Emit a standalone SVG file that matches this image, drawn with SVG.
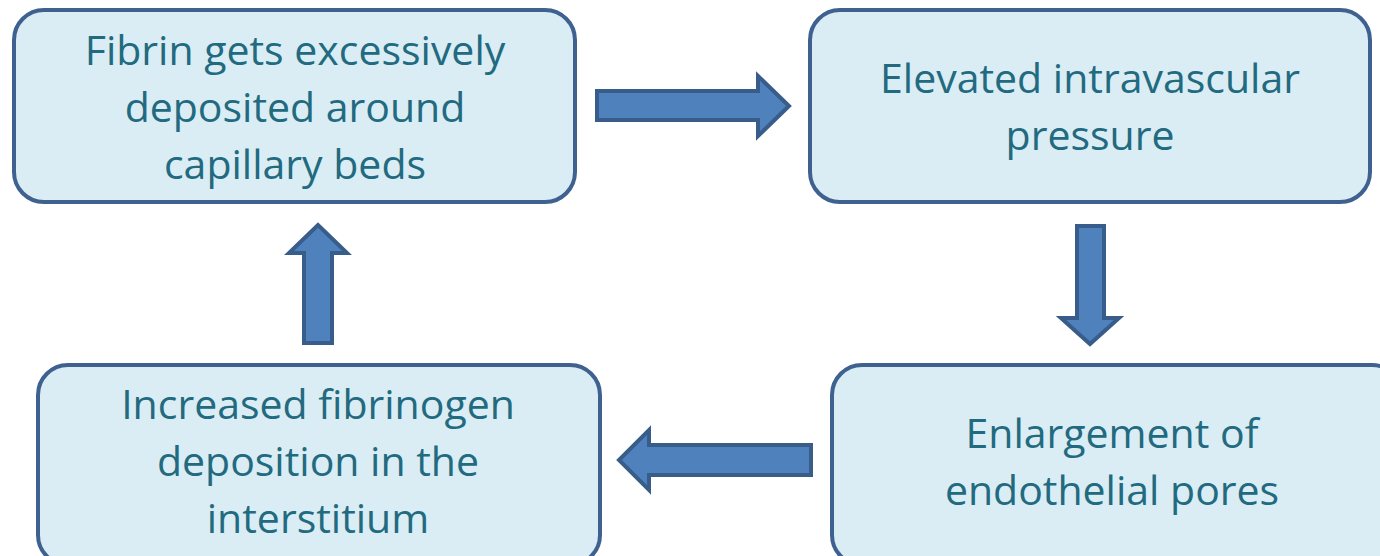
<svg xmlns="http://www.w3.org/2000/svg" width="1380" height="556" viewBox="0 0 1380 556">
<style>
.box{fill:#daedf4;stroke:#3f6190;stroke-width:4}
.arr{fill:#4f81bd;stroke:#385d8a;stroke-width:4;stroke-linejoin:miter}
.t{font-family:"Open Sans","Noto Sans",sans-serif;font-size:41px;fill:#226a80;text-anchor:middle}
</style>
<rect width="1380" height="556" fill="#ffffff"/>
<g id="node-fibrin">
<rect class="box" x="14" y="10" width="561" height="192" rx="30"/>
<text class="t" x="295"><tspan x="295" y="65">Fibrin gets excessively</tspan><tspan x="295" y="122">deposited around</tspan><tspan x="295" y="179">capillary beds</tspan></text>
</g>
<g id="node-pressure">
<rect class="box" x="810" y="10" width="560" height="192" rx="30"/>
<text class="t" x="1090"><tspan x="1090" y="93">Elevated intravascular</tspan><tspan x="1090" y="150">pressure</tspan></text>
</g>
<g id="node-pores">
<rect class="box" x="832" y="365" width="570" height="200" rx="30"/>
<text class="t" x="1112"><tspan x="1112" y="448">Enlargement of</tspan><tspan x="1112" y="505">endothelial pores</tspan></text>
</g>
<g id="node-fibrinogen">
<rect class="box" x="38" y="365" width="562" height="200" rx="30"/>
<text class="t" x="318"><tspan x="318" y="419">Increased fibrinogen</tspan><tspan x="318" y="476">deposition in the</tspan><tspan x="318" y="533">interstitium</tspan></text>
</g>
<g id="connectors">
<polygon class="arr" points="597,91 758,91 758,76 789,106 758,136 758,120 597,120"/>
<polygon class="arr" points="1077,226 1104,226 1104,318 1119,318 1090,344 1061,318 1077,318"/>
<polygon class="arr" points="811,445 649,445 649,430 619,460 649,490 649,475 811,475"/>
<polygon class="arr" points="304,343 332,343 332,253 347,253 318,225 289,253 304,253"/>
</g>
</svg>
